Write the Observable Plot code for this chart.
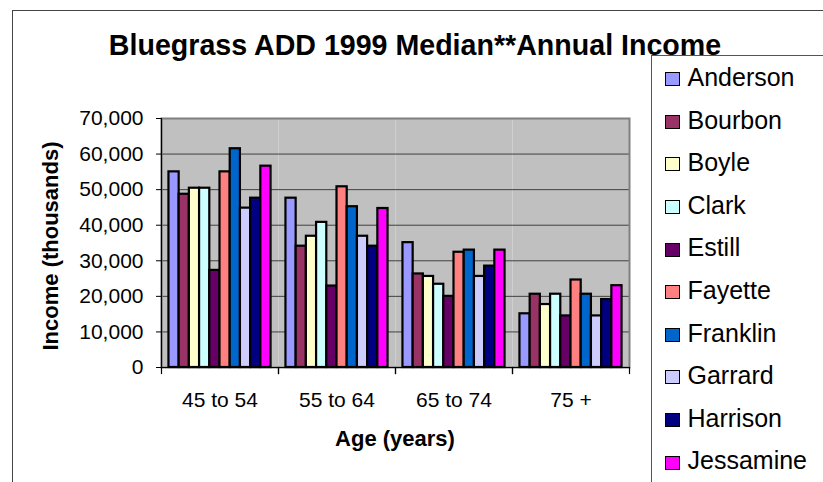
<!DOCTYPE html>
<html>
<head>
<meta charset="utf-8">
<script src="https://cdn.jsdelivr.net/npm/d3@7"></script>
<script src="https://cdn.jsdelivr.net/npm/@observablehq/plot@0.6"></script>
<style>
  html, body { margin: 0; padding: 0; background: #fff; }
  #wrap { position: relative; width: 823px; height: 482px; overflow: hidden; font-family: "Liberation Sans", Arial, sans-serif; color: #000; }
  #outer { position: absolute; left: 12px; top: 10px; width: 900px; height: 600px; border-left: 1.5px solid #444; border-top: 1.5px solid #444; }
  #chart { position: absolute; left: 0; top: 0; }
  #title { position: absolute; left: 0; width: 830px; top: 31px; text-align: center; font-weight: bold; font-size: 28.6px; line-height: 28px; white-space: nowrap; }
  #ylabel { position: absolute; left: 51px; top: 246px; transform: translate(-50%, -50%) rotate(-90deg); font-weight: bold; font-size: 22px; line-height: 22px; white-space: nowrap; }
  #xlabel { position: absolute; left: 395px; top: 439px; transform: translate(-50%, -50%); font-weight: bold; font-size: 22px; line-height: 22px; white-space: nowrap; }
  #legend { position: absolute; left: 651px; top: 55px; width: 300px; height: 500px; border-left: 1.5px solid #555; border-top: 1.5px solid #555; background: #fff; }
  .row { display: flex; align-items: center; height: 42.6px; font-size: 25px; line-height: 42.6px; white-space: nowrap; }
  .sw { width: 15px; height: 14px; box-sizing: border-box; border: 1.5px solid #000; margin-left: 12.5px; margin-right: 8px; margin-top: 4px; }
</style>
</head>
<body>
<div id="wrap">
  <div id="outer"></div>
  <div id="chart"></div>
  <div id="title"></div>
  <div id="ylabel"></div>
  <div id="xlabel"></div>
  <div id="legend"></div>
</div>
<script>
const titleText = "Bluegrass ADD 1999 Median**Annual Income";
const yTitle = "Income (thousands)";
const xTitle = "Age (years)";

const ages = ["45 to 54", "55 to 64", "65 to 74", "75 +"];
const counties = ["Anderson", "Bourbon", "Boyle", "Clark", "Estill", "Fayette", "Franklin", "Garrard", "Harrison", "Jessamine"];
const colors = ["#9999FF", "#993366", "#FFFFCC", "#CCFFFF", "#660066", "#FF8080", "#0066CC", "#CCCCFF", "#000080", "#FF00FF"];

const anderson  = [55000, 47600, 35100, 15100];
const bourbon   = [48700, 34100, 26300, 20600];
const boyle     = [50400, 36900, 25600, 17700];
const clark     = [50400, 40800, 23400, 20600];
const estill    = [27300, 22900, 20000, 14500];
const fayette   = [55000, 50800, 32400, 24600];
const franklin  = [61500, 45200, 33000, 20600];
const garrard   = [44800, 36900, 25600, 14500];
const harrison  = [47600, 34100, 28500, 19100];
const jessamine = [56600, 44700, 33000, 23000];

const yTicks = [0, 10000, 20000, 30000, 40000, 50000, 60000, 70000];

const series = [anderson, bourbon, boyle, clark, estill, fayette, franklin, garrard, harrison, jessamine];
const data = [];
counties.forEach((c, i) => ages.forEach((a, j) => data.push({county: c, age: a, value: series[i][j]})));

const W = 823, H = 482, mL = 160, mR = 193, mT = 118, mB = 115;
const plotH = H - mT - mB;

const chart = Plot.plot({
  width: W,
  height: H,
  marginLeft: mL,
  marginRight: mR,
  marginTop: mT,
  marginBottom: mB,
  style: {background: "transparent", fontFamily: "'Liberation Sans', Arial, sans-serif", fontSize: "21px", color: "#000"},
  fx: {domain: ages, padding: 0, axis: null},
  x: {domain: counties, type: "band", paddingInner: 0, paddingOuter: 0.73, round: false, axis: null},
  y: {domain: [0, 70000], axis: null},
  color: {domain: counties, range: colors},
  marks: [
    Plot.frame({fill: "#C0C0C0", stroke: null}),
    Plot.ruleY(yTicks.slice(1, -1), {stroke: "#404040", strokeWidth: 1}),
    Plot.frame({facet: "super", stroke: "#808080", strokeWidth: 2}),
    Plot.barY(data, {fx: "age", x: "county", y: "value", fill: "county", stroke: "#000", strokeWidth: 2.2}),
    Plot.ruleY([0], {stroke: "#000", strokeWidth: 1.2}),
    Plot.frame({facet: "super", anchor: "left", stroke: "#000", strokeWidth: 1.2}),
    Plot.frame({anchor: "left", stroke: "#000", strokeWidth: 1.2, insetTop: plotH, insetBottom: -6}),
    Plot.frame({anchor: "right", stroke: "#000", strokeWidth: 1.2, insetTop: plotH, insetBottom: -6}),
    Plot.axisY({ticks: yTicks, tickFormat: d3.format(","), tickSize: 5, tickPadding: 13, label: null, fontSize: 21}),
    Plot.axisFx({anchor: "bottom", tickSize: 0, tickPadding: 25, label: null, fontSize: 21})
  ]
});
document.getElementById("chart").appendChild(chart);

document.getElementById("title").textContent = titleText;
document.getElementById("ylabel").textContent = yTitle;
document.getElementById("xlabel").textContent = xTitle;

const legend = document.getElementById("legend");
counties.forEach((c, i) => {
  const row = document.createElement("div");
  row.className = "row";
  const sw = document.createElement("div");
  sw.className = "sw";
  sw.style.background = colors[i];
  const t = document.createElement("span");
  t.textContent = c;
  row.appendChild(sw);
  row.appendChild(t);
  legend.appendChild(row);
});
</script>
</body>
</html>
